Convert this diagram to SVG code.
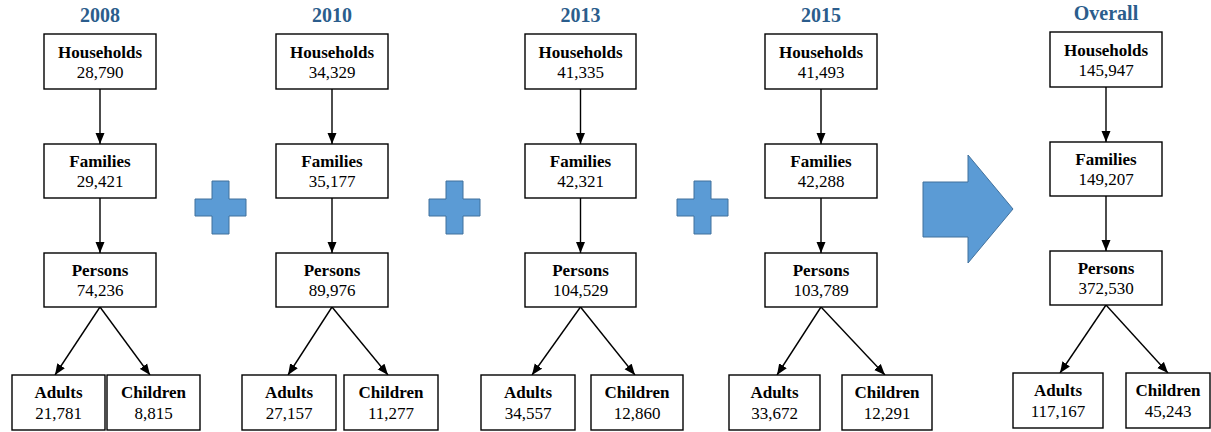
<svg xmlns="http://www.w3.org/2000/svg" width="1211" height="432" viewBox="0 0 1211 432">
<style>
.bg{fill:#fff}
.box{fill:#fff;stroke:#000;stroke-width:1.4}
.title{font-family:"Liberation Serif",serif;font-weight:bold;font-size:20px;fill:#2b5d8c;text-anchor:middle}
.lbl{font-family:"Liberation Serif",serif;font-weight:bold;font-size:17px;fill:#000;text-anchor:middle}
.num{font-family:"Liberation Serif",serif;font-size:17px;fill:#000;text-anchor:middle}
.edge{stroke:#000;stroke-width:1.4;fill:none;marker-end:url(#ah)}
.shape{fill:#5b9bd5;stroke:#41719c;stroke-width:1}
</style>
<defs>
<marker id="ah" markerUnits="userSpaceOnUse" markerWidth="12" markerHeight="10" refX="11" refY="5" orient="auto">
<path d="M0,0.5 L11,5 L0,9.5 z" fill="#000"/>
</marker>
</defs>
<rect class="bg" width="1211" height="432"/>

<g id="titles">
<text class="title" x="100" y="22">2008</text>
<text class="title" x="332" y="22">2010</text>
<text class="title" x="580.5" y="22">2013</text>
<text class="title" x="821" y="22">2015</text>
<text class="title" x="1106" y="20">Overall</text>
</g>

<g id="connectors">
<path class="edge" d="M100,89 V144"/>
<path class="edge" d="M100,198 V253"/>
<path class="edge" d="M100,307 L55,375"/>
<path class="edge" d="M100,307 L150,375"/>
<path class="edge" d="M332,89 V144"/>
<path class="edge" d="M332,198 V253"/>
<path class="edge" d="M332,307 L288,375"/>
<path class="edge" d="M332,307 L388,375"/>
<path class="edge" d="M580.5,89 V144"/>
<path class="edge" d="M580.5,198 V253"/>
<path class="edge" d="M580.5,307 L532,375"/>
<path class="edge" d="M580.5,307 L635,375"/>
<path class="edge" d="M821,89 V144"/>
<path class="edge" d="M821,198 V253"/>
<path class="edge" d="M821,307 L777,375"/>
<path class="edge" d="M821,307 L885,375"/>
<path class="edge" d="M1106,87 V142"/>
<path class="edge" d="M1106,196 V251"/>
<path class="edge" d="M1106,305 L1060,373"/>
<path class="edge" d="M1106,305 L1168,373"/>
</g>

<g id="plus1"><path class="shape" d="M212,181 H229 V199 H246 V216 H229 V234 H212 V216 H195 V199 H212 Z"/></g>
<g id="plus2"><path class="shape" d="M446,181 H463 V199 H480 V216 H463 V234 H446 V216 H429 V199 H446 Z"/></g>
<g id="plus3"><path class="shape" d="M694,181 H711 V199 H728 V216 H711 V234 H694 V216 H677 V199 H694 Z"/></g>
<g id="bigArrow"><path class="shape" d="M923,182 H968 V155 L1013,209 L968,263 V237 H923 Z"/></g>

<!-- 2008 -->
<g id="h2008"><rect class="box" x="44" y="34" width="112" height="55"/><text class="lbl" x="100" y="58">Households</text><text class="num" x="100" y="78">28,790</text></g>
<g id="f2008"><rect class="box" x="44" y="144" width="112" height="54"/><text class="lbl" x="100" y="167">Families</text><text class="num" x="100" y="187">29,421</text></g>
<g id="p2008"><rect class="box" x="44" y="253" width="112" height="54"/><text class="lbl" x="100" y="276">Persons</text><text class="num" x="100" y="296">74,236</text></g>
<g id="a2008"><rect class="box" x="12" y="375" width="93" height="55"/><text class="lbl" x="58.5" y="398">Adults</text><text class="num" x="58.5" y="419">21,781</text></g>
<g id="c2008"><rect class="box" x="107" y="375" width="93" height="55"/><text class="lbl" x="153.5" y="398">Children</text><text class="num" x="153.5" y="419">8,815</text></g>

<!-- 2010 -->
<g id="h2010"><rect class="box" x="276" y="34" width="112" height="55"/><text class="lbl" x="332" y="58">Households</text><text class="num" x="332" y="78">34,329</text></g>
<g id="f2010"><rect class="box" x="276" y="144" width="112" height="54"/><text class="lbl" x="332" y="167">Families</text><text class="num" x="332" y="187">35,177</text></g>
<g id="p2010"><rect class="box" x="276" y="253" width="112" height="54"/><text class="lbl" x="332" y="276">Persons</text><text class="num" x="332" y="296">89,976</text></g>
<g id="a2010"><rect class="box" x="242" y="375" width="94" height="55"/><text class="lbl" x="289" y="398">Adults</text><text class="num" x="289" y="419">27,157</text></g>
<g id="c2010"><rect class="box" x="344" y="375" width="94" height="55"/><text class="lbl" x="391" y="398">Children</text><text class="num" x="391" y="419">11,277</text></g>

<!-- 2013 -->
<g id="h2013"><rect class="box" x="525" y="34" width="111" height="55"/><text class="lbl" x="580.5" y="58">Households</text><text class="num" x="580.5" y="78">41,335</text></g>
<g id="f2013"><rect class="box" x="525" y="144" width="111" height="54"/><text class="lbl" x="580.5" y="167">Families</text><text class="num" x="580.5" y="187">42,321</text></g>
<g id="p2013"><rect class="box" x="525" y="253" width="111" height="54"/><text class="lbl" x="580.5" y="276">Persons</text><text class="num" x="580.5" y="296">104,529</text></g>
<g id="a2013"><rect class="box" x="481" y="375" width="94" height="55"/><text class="lbl" x="528" y="398">Adults</text><text class="num" x="528" y="419">34,557</text></g>
<g id="c2013"><rect class="box" x="591" y="375" width="92" height="55"/><text class="lbl" x="637" y="398">Children</text><text class="num" x="637" y="419">12,860</text></g>

<!-- 2015 -->
<g id="h2015"><rect class="box" x="765" y="34" width="112" height="55"/><text class="lbl" x="821" y="58">Households</text><text class="num" x="821" y="78">41,493</text></g>
<g id="f2015"><rect class="box" x="765" y="144" width="112" height="54"/><text class="lbl" x="821" y="167">Families</text><text class="num" x="821" y="187">42,288</text></g>
<g id="p2015"><rect class="box" x="765" y="253" width="112" height="54"/><text class="lbl" x="821" y="276">Persons</text><text class="num" x="821" y="296">103,789</text></g>
<g id="a2015"><rect class="box" x="729" y="375" width="91" height="55"/><text class="lbl" x="774.5" y="398">Adults</text><text class="num" x="774.5" y="419">33,672</text></g>
<g id="c2015"><rect class="box" x="842" y="375" width="90" height="55"/><text class="lbl" x="887" y="398">Children</text><text class="num" x="887" y="419">12,291</text></g>

<!-- Overall -->
<g id="hAll"><rect class="box" x="1050" y="32" width="112" height="55"/><text class="lbl" x="1106" y="56">Households</text><text class="num" x="1106" y="76">145,947</text></g>
<g id="fAll"><rect class="box" x="1050" y="142" width="112" height="54"/><text class="lbl" x="1106" y="165">Families</text><text class="num" x="1106" y="185">149,207</text></g>
<g id="pAll"><rect class="box" x="1050" y="251" width="112" height="54"/><text class="lbl" x="1106" y="274">Persons</text><text class="num" x="1106" y="294">372,530</text></g>
<g id="aAll"><rect class="box" x="1013" y="373" width="90" height="55"/><text class="lbl" x="1058" y="396">Adults</text><text class="num" x="1058" y="417">117,167</text></g>
<g id="cAll"><rect class="box" x="1126" y="373" width="84" height="55"/><text class="lbl" x="1168" y="396">Children</text><text class="num" x="1168" y="417">45,243</text></g>
</svg>
